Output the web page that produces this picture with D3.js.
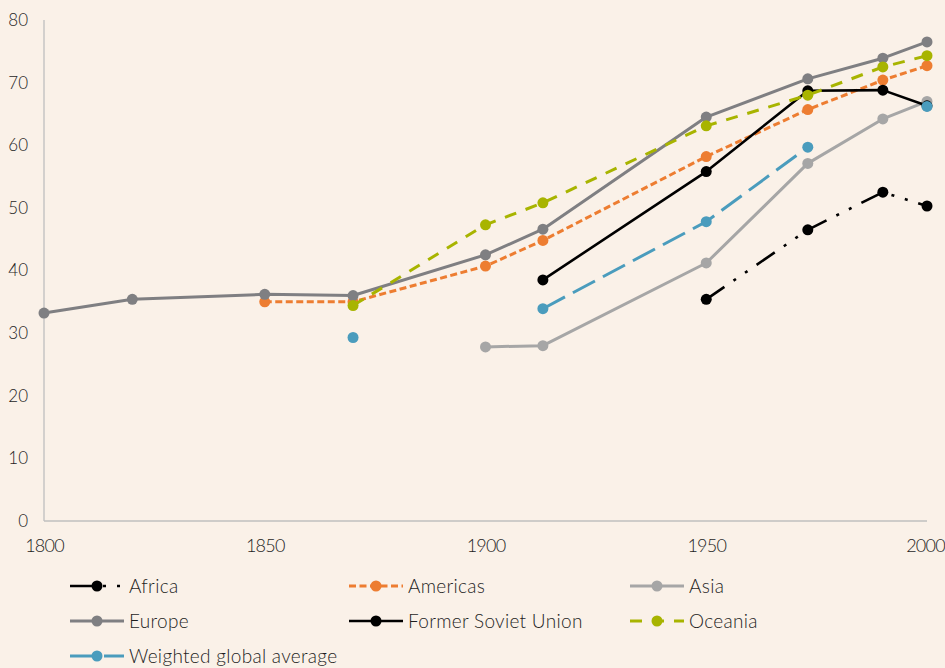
<!DOCTYPE html>
<html>
<head>
<meta charset="utf-8">
<script src="https://cdn.jsdelivr.net/npm/d3@7"></script>
<style>
  html, body { margin: 0; padding: 0; background: #FAF1E8; }
  svg { display: block; }
  text { font-family: Lato, "Open Sans", sans-serif; fill: #1E1E1E; }
</style>
</head>
<body>
<svg id="chart" width="945" height="668"></svg>
<script>
const years    = [1800, 1820, 1850, 1870, 1900, 1913, 1950, 1973, 1990, 2000];
const africa   = [null, null, null, null, null, null, 35.4, 46.5, 52.5, 50.3];
const americas = [null, null, 35.0, 35.0, 40.7, 44.8, 58.2, 65.7, 70.4, 72.7];
const asia     = [null, null, null, null, 27.8, 28.0, 41.2, 57.1, 64.2, 67.0];
const europe   = [33.2, 35.4, 36.2, 36.0, 42.5, 46.6, 64.5, 70.6, 73.9, 76.5];
const fsu      = [null, null, null, null, null, 38.5, 55.8, 68.7, 68.8, 66.3];
const oceania  = [null, null, null, 34.4, 47.3, 50.8, 63.1, 68.0, 72.5, 74.3];
const world    = [null, null, null, 29.3, null, 33.9, 47.8, 59.7, null, 66.2];

const xTicks = [1800, 1850, 1900, 1950, 2000];
const yTicks = [0, 10, 20, 30, 40, 50, 60, 70, 80];

const seriesNames  = ["Africa", "Americas", "Asia", "Europe", "Former Soviet Union", "Oceania", "Weighted global average"];
const seriesValues = [africa, americas, asia, europe, fsu, oceania, world];

const styles = {
  "Africa":                  { color: "#000000", width: 2.6, dash: "22,11,3,11,3,11", r: 5.5 },
  "Americas":                { color: "#ED7D31", width: 3,   dash: "7,3.5",           r: 5.5 },
  "Asia":                    { color: "#A6A6A6", width: 3,   dash: null,              r: 5.5 },
  "Europe":                  { color: "#7F7F82", width: 3,   dash: null,              r: 5.5 },
  "Former Soviet Union":     { color: "#000000", width: 2.6, dash: null,              r: 5.5 },
  "Oceania":                 { color: "#A8B400", width: 3,   dash: "12,10",           r: 5.5 },
  "Weighted global average": { color: "#4A9CBD", width: 3,   dash: "25,9",            r: 5.5 }
};

const svg = d3.select("#chart");
const x = d3.scaleLinear().domain([1800, 2000]).range([44, 927]);
const y = d3.scaleLinear().domain([0, 80]).range([521, 20]);

// axes lines
const g = svg.append("g");
g.append("line").attr("x1", x(1800)).attr("x2", x(1800)).attr("y1", y(80)).attr("y2", y(0))
  .attr("stroke", "#BFBFBF").attr("stroke-width", 1.3);
g.append("line").attr("x1", x(1800)).attr("x2", x(2000)).attr("y1", y(0)).attr("y2", y(0))
  .attr("stroke", "#BFBFBF").attr("stroke-width", 1.3);

// y axis labels
const yAxis = d3.axisLeft(y).tickValues(yTicks).tickSize(0).tickPadding(16);
const ya = svg.append("g").attr("transform", `translate(${x(1800)},0)`).call(yAxis);
ya.select(".domain").remove();
ya.selectAll("text").style("font-size", "17px").style("font-family", "Lato, 'Open Sans', sans-serif")
  .style("font-weight", "300").attr("fill", "#1E1E1E");

// x axis labels
const xAxis = d3.axisBottom(x).tickValues(xTicks).tickFormat(d3.format("d")).tickSize(0).tickPadding(18);
const xa = svg.append("g").attr("transform", `translate(0,${y(0)})`).call(xAxis);
xa.select(".domain").remove();
xa.selectAll("text").style("font-size", "18px").style("font-family", "Lato, 'Open Sans', sans-serif")
  .style("font-weight", "300").style("letter-spacing", "-0.8px").attr("fill", "#1E1E1E")
  .attr("dx", d => d === 2000 ? "-2px" : 0);

const line = d3.line()
  .defined(d => d.v !== null)
  .x(d => x(d.year))
  .y(d => y(d.v));

seriesNames.forEach((name, i) => {
  const st = styles[name];
  const data = years.map((yr, j) => ({ year: yr, v: seriesValues[i][j] }));
  const sg = svg.append("g");
  sg.append("path").datum(data)
    .attr("d", line)
    .attr("fill", "none")
    .attr("stroke", st.color)
    .attr("stroke-width", st.width)
    .attr("stroke-dasharray", st.dash)
    .attr("stroke-linejoin", "round");
  sg.selectAll("circle").data(data.filter(d => d.v !== null)).join("circle")
    .attr("cx", d => x(d.year))
    .attr("cy", d => y(d.v))
    .attr("r", st.r)
    .attr("fill", st.color);
});

// legend
const legCols = [70, 349, 630];
const legRows = [586, 621, 656];
const legLen = 54;
seriesNames.forEach((name, i) => {
  const st = styles[name];
  const cx = legCols[i % 3];
  const cy = legRows[Math.floor(i / 3)];
  const lg = svg.append("g");
  lg.append("line").attr("x1", cx).attr("x2", cx + legLen).attr("y1", cy).attr("y2", cy)
    .attr("stroke", st.color).attr("stroke-width", st.width)
    .attr("stroke-dasharray", st.dash);
  lg.append("circle").attr("cx", cx + 27).attr("cy", cy).attr("r", st.r).attr("fill", st.color);
  lg.append("text").attr("x", cx + 59).attr("y", cy).attr("dy", "0.36em")
    .style("font-size", "19px").style("font-weight", "300").style("letter-spacing", "0.3px").text(name);
});
</script>
</body>
</html>
